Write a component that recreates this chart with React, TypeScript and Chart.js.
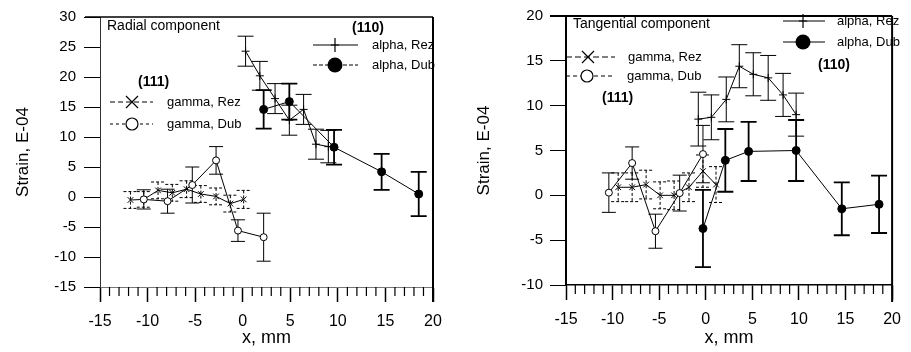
import React, { useEffect, useRef } from "react";
import { Chart, registerables } from "chart.js";
Chart.register(...registerables);

const FONT = "'Liberation Sans', Arial, Helvetica, sans-serif";

// ---------- Radial component (left) ----------
const radAlphaRezX = [0.3, 1.8, 3.4, 4.9, 6.4, 7.7, 9.0];
const radAlphaRezY = [24.3, 20.2, 16.4, 12.8, 14.6, 8.8, 8.4];
const radAlphaRezE = [2.5, 2.4, 2.5, 2.5, 2.5, 2.5, 2.7];

const radAlphaDubX = [2.2, 4.9, 9.6, 14.6, 18.5];
const radAlphaDubY = [14.6, 15.9, 8.3, 4.2, 0.5];
const radAlphaDubE = [3.2, 3.0, 2.9, 3.0, 3.7];

const radGammaRezX = [-11.8, -10.4, -8.9, -7.4, -5.9, -4.4, -2.8, -1.3, 0.1];
const radGammaRezY = [-0.5, -0.4, 1.1, 0.7, 1.3, 0.5, 0.1, -1.1, -0.4];
const radGammaRezE = [1.4, 1.3, 1.4, 1.4, 1.4, 1.4, 1.4, 1.4, 1.5];

const radGammaDubX = [-10.4, -7.9, -5.3, -2.8, -0.5, 2.2];
const radGammaDubY = [-0.4, -0.7, 2.0, 6.1, -5.6, -6.7];
const radGammaDubE = [1.6, 2.0, 3.0, 2.3, 1.8, 4.0];

// ---------- Tangential component (right) ----------
const tanAlphaRezX = [-0.8, 0.6, 2.2, 3.6, 5.1, 6.7, 8.3, 9.7];
const tanAlphaRezY = [8.5, 8.7, 10.7, 14.4, 13.5, 13.1, 11.2, 9.0];
const tanAlphaRezE = [3.0, 2.5, 2.5, 2.4, 2.4, 2.5, 2.4, 2.4];

const tanAlphaDubX = [-0.3, 2.1, 4.6, 9.7, 14.6, 18.6];
const tanAlphaDubY = [-3.7, 3.9, 4.9, 5.0, -1.5, -1.0];
const tanAlphaDubE = [4.3, 3.5, 3.3, 3.4, 2.95, 3.2];

const tanGammaRezX = [-9.4, -7.9, -6.4, -4.9, -3.4, -1.8, -0.3, 1.1];
const tanGammaRezY = [0.9, 0.9, 1.2, 0.0, 0.0, 0.9, 2.7, 1.2];
const tanGammaRezE = [1.6, 1.6, 1.6, 1.5, 1.6, 1.6, 1.8, 2.0];

const tanGammaDubX = [-10.4, -7.9, -5.4, -2.8, -0.3];
const tanGammaDubY = [0.3, 3.6, -4.0, 0.25, 4.6];
const tanGammaDubE = [2.2, 1.8, 1.9, 2.0, 3.2];

// axis ranges / labels
const xMin = -15, xMax = 20, xStep = 5;
const radYMin = -15, radYMax = 30;
const tanYMin = -10, tanYMax = 20;
const yStep = 5;
const yTitle = "Strain, E-04";
const xTitle = "x, mm";
const legendNames = ["alpha, Rez", "alpha, Dub", "gamma, Rez", "gamma, Dub"];

const pts = (xs: number[], ys: number[]) => xs.map((x, i) => ({ x, y: ys[i] }));

function drawMarker(ctx: CanvasRenderingContext2D, kind: string, x: number, y: number, s: number) {
  ctx.save();
  ctx.strokeStyle = "#000";
  ctx.fillStyle = "#000";
  ctx.lineWidth = 1.2;
  ctx.setLineDash([]);
  ctx.beginPath();
  if (kind === "cross") {
    ctx.moveTo(x, y - s); ctx.lineTo(x, y + s);
    ctx.moveTo(x - s * 0.6, y); ctx.lineTo(x + s * 0.6, y);
    ctx.stroke();
  } else if (kind === "crossRot") {
    ctx.moveTo(x - s, y - s); ctx.lineTo(x + s, y + s);
    ctx.moveTo(x - s, y + s); ctx.lineTo(x + s, y - s);
    ctx.stroke();
  } else if (kind === "dot") {
    ctx.arc(x, y, s, 0, Math.PI * 2);
    ctx.fill();
  } else {
    ctx.fillStyle = "#fff";
    ctx.arc(x, y, s, 0, Math.PI * 2);
    ctx.fill();
    ctx.stroke();
  }
  ctx.restore();
}

const errorBarPlugin = {
  id: "errbars",
  beforeDatasetsDraw(chart: any) {
    const ctx = chart.ctx;
    const xs = chart.scales.x, ys = chart.scales.y;
    chart.data.datasets.forEach((ds: any) => {
      if (!ds.errors) return;
      ctx.save();
      ctx.strokeStyle = "#000";
      ctx.lineWidth = ds.errWidth || 1;
      ctx.setLineDash(ds.errDash || []);
      ds.data.forEach((p: any, i: number) => {
        const e = ds.errors[i];
        const px = xs.getPixelForValue(p.x);
        const t = ys.getPixelForValue(p.y + e);
        const b = ys.getPixelForValue(p.y - e);
        const c = ds.capHalf ?? 8;
        ctx.beginPath();
        ctx.moveTo(px, t); ctx.lineTo(px, b);
        ctx.moveTo(px - c, t); ctx.lineTo(px + c, t);
        ctx.moveTo(px - c, b); ctx.lineTo(px + c, b);
        ctx.stroke();
      });
      ctx.restore();
    });
  },
};

const framePlugin = {
  id: "frame",
  afterDraw(chart: any, _args: any, opts: any) {
    const ctx = chart.ctx;
    const { left, right, top, bottom } = chart.chartArea;
    const xs = chart.scales.x;
    ctx.save();
    ctx.strokeStyle = "#000";
    ctx.setLineDash([]);
    ctx.lineWidth = opts.topWidth;
    ctx.beginPath();
    ctx.moveTo(left - opts.topExt, top);
    ctx.lineTo(right, top);
    ctx.stroke();
    ctx.lineWidth = opts.rightWidth;
    ctx.beginPath();
    ctx.moveTo(right, top);
    ctx.lineTo(right, bottom + opts.rightExt);
    ctx.stroke();
    ctx.lineWidth = 1.2;
    ctx.beginPath();
    for (let v = xMin; v <= xMax; v++) {
      if (v % xStep === 0) continue;
      const px = xs.getPixelForValue(v);
      ctx.moveTo(px, bottom);
      ctx.lineTo(px, bottom + opts.minorLen);
    }
    ctx.stroke();
    ctx.restore();
  },
};

const notesPlugin = {
  id: "notes",
  afterDraw(chart: any, _args: any, opts: any) {
    const ctx = chart.ctx;
    ctx.save();
    ctx.fillStyle = "#000";
    ctx.textBaseline = "middle";
    ctx.textAlign = "left";
    (opts.texts || []).forEach((t: any) => {
      ctx.font = `${t.bold ? "bold " : ""}${t.size}px ${FONT}`;
      ctx.fillText(t.text, t.x, t.y);
    });
    (opts.keys || []).forEach((k: any) => {
      ctx.save();
      ctx.strokeStyle = "#000";
      ctx.lineWidth = 1;
      ctx.setLineDash(k.dash || []);
      ctx.beginPath();
      ctx.moveTo(k.x1, k.y);
      ctx.lineTo(k.x2, k.y);
      ctx.stroke();
      ctx.restore();
      drawMarker(ctx, k.marker, k.mx, k.y, k.size);
      ctx.font = `13px ${FONT}`;
      ctx.fillText(k.text, k.tx, k.y);
    });
    ctx.restore();
  },
};

function makeConfig(p: any) {
  const ds = (xs: number[], ys: number[], es: number[], style: any) => ({
    data: pts(xs, ys),
    errors: es,
    showLine: true,
    borderColor: "#000",
    borderWidth: 1,
    backgroundColor: "#000",
    pointBorderColor: "#000",
    pointBorderWidth: 1,
    ...style,
  });
  return {
    type: "scatter",
    data: {
      datasets: [
        ds(p.gdX, p.gdY, p.gdE, { pointStyle: "circle", pointRadius: 3.5, pointBackgroundColor: "#fff", errWidth: 1, capHalf: 7 }),
        ds(p.grX, p.grY, p.grE, { pointStyle: "crossRot", pointRadius: 4, pointBackgroundColor: "#000", errWidth: 1, errDash: [3, 2], capHalf: 7 }),
        ds(p.arX, p.arY, p.arE, { pointStyle: "cross", pointRadius: 4, pointBackgroundColor: "#000", errWidth: 1, capHalf: 8 }),
        ds(p.adX, p.adY, p.adE, { pointStyle: "circle", pointRadius: 4, pointBackgroundColor: "#000", errWidth: 1.8, capHalf: 8 }),
      ],
    },
    options: {
      responsive: false,
      maintainAspectRatio: false,
      animation: false,
      devicePixelRatio: 1,
      layout: { padding: { top: p.padTop, right: p.padRight, left: 0, bottom: 0 } },
      plugins: {
        legend: { display: false },
        tooltip: { enabled: false },
        frame: p.frame,
        notes: p.notes,
      },
      scales: {
        x: {
          type: "linear",
          min: xMin,
          max: xMax,
          ticks: { stepSize: xStep, color: "#000", font: { family: FONT, size: 16 }, padding: 10, maxRotation: 0 },
          grid: { drawOnChartArea: false, drawTicks: true, tickLength: 15, tickColor: "#000", tickWidth: 1.5 },
          border: p.xBorder,
          title: { display: true, text: xTitle, color: "#000", font: { family: FONT, size: 18 }, padding: { top: 0, bottom: 3 } },
          afterFit: (s: any) => { s.height = p.xH; },
        },
        y: {
          type: "linear",
          min: p.yMin,
          max: p.yMax,
          ticks: { stepSize: yStep, color: "#000", font: { family: FONT, size: 15 }, padding: p.yPad },
          grid: { drawOnChartArea: false, drawTicks: true, tickLength: 16, tickColor: "#000", tickWidth: 1 },
          border: p.yBorder,
          title: { display: true, text: yTitle, color: "#000", font: { family: FONT, size: 17 }, padding: { top: p.yTitlePad, bottom: 0 } },
          afterFit: (s: any) => { s.width = p.yW; },
        },
      },
    },
    plugins: [errorBarPlugin, framePlugin, notesPlugin],
  };
}

const leftParams = {
  arX: radAlphaRezX, arY: radAlphaRezY, arE: radAlphaRezE,
  adX: radAlphaDubX, adY: radAlphaDubY, adE: radAlphaDubE,
  grX: radGammaRezX, grY: radGammaRezY, grE: radGammaRezE,
  gdX: radGammaDubX, gdY: radGammaDubY, gdE: radGammaDubE,
  yMin: radYMin, yMax: radYMax,
  padTop: 15, padRight: 22, xH: 65, yW: 100, yPad: 8, yTitlePad: 13,
  xBorder: { display: true, color: "#777", width: 1, dash: [1, 3] },
  yBorder: { display: true, color: "#333", width: 1, dash: [2, 2] },
  frame: { topExt: 15, topWidth: 1.5, rightWidth: 2, rightExt: 15, minorLen: 9 },
  notes: {
    texts: [
      { text: "Radial component", x: 107, y: 26, size: 14 },
      { text: "(110)", x: 352, y: 28, size: 14, bold: true },
      { text: "(111)", x: 138, y: 82, size: 14, bold: true },
    ],
    keys: [
      { text: legendNames[0], x1: 313, x2: 358, y: 45, mx: 335, marker: "cross", size: 7, tx: 372 },
      { text: legendNames[1], x1: 313, x2: 358, y: 65, mx: 335, marker: "dot", size: 7.5, tx: 372, dash: [4, 2] },
      { text: legendNames[2], x1: 110, x2: 153, y: 102, mx: 132, marker: "crossRot", size: 6, tx: 167, dash: [5, 3] },
      { text: legendNames[3], x1: 110, x2: 153, y: 124, mx: 132, marker: "ring", size: 6, tx: 167, dash: [3, 3] },
    ],
  },
};

const rightParams = {
  arX: tanAlphaRezX, arY: tanAlphaRezY, arE: tanAlphaRezE,
  adX: tanAlphaDubX, adY: tanAlphaDubY, adE: tanAlphaDubE,
  grX: tanGammaRezX, grY: tanGammaRezY, grE: tanGammaRezE,
  gdX: tanGammaDubX, gdY: tanGammaDubY, gdE: tanGammaDubE,
  yMin: tanYMin, yMax: tanYMax,
  padTop: 12, padRight: 10, xH: 67, yW: 111, yPad: 7, yTitlePad: 19,
  xBorder: { display: true, color: "#000", width: 1.5 },
  yBorder: { display: true, color: "#000", width: 2 },
  frame: { topExt: 16, topWidth: 2, rightWidth: 2, rightExt: 17, minorLen: 9 },
  notes: {
    texts: [
      { text: "Tangential component", x: 118, y: 24, size: 14 },
      { text: "(110)", x: 363, y: 65, size: 14, bold: true },
      { text: "(111)", x: 147, y: 98, size: 14, bold: true },
    ],
    keys: [
      { text: legendNames[0], x1: 328, x2: 370, y: 21, mx: 348, marker: "cross", size: 7, tx: 382 },
      { text: legendNames[1], x1: 328, x2: 370, y: 42, mx: 348, marker: "dot", size: 7.5, tx: 382 },
      { text: legendNames[2], x1: 111, x2: 160, y: 57, mx: 133, marker: "crossRot", size: 6, tx: 173, dash: [6, 3] },
      { text: legendNames[3], x1: 111, x2: 158, y: 76, mx: 132, marker: "ring", size: 6, tx: 172, dash: [4, 3] },
    ],
  },
};

function Panel({ params, left, width }: { params: any; left: number; width: number }) {
  const ref = useRef<HTMLCanvasElement | null>(null);
  useEffect(() => {
    if (!ref.current) return;
    const chart = new Chart(ref.current, makeConfig(params) as any);
    return () => chart.destroy();
  }, [params]);
  return (
    <canvas
      ref={ref}
      width={width}
      height={352}
      style={{ position: "absolute", left, top: 0, width, height: 352, display: "block" }}
    />
  );
}

export default function App() {
  return (
    <div style={{ position: "absolute", left: 0, top: 0, width: 911, height: 352, background: "#fff", overflow: "hidden" }}>
      <Panel params={leftParams} left={0} width={455} />
      <Panel params={rightParams} left={455} width={456} />
    </div>
  );
}
